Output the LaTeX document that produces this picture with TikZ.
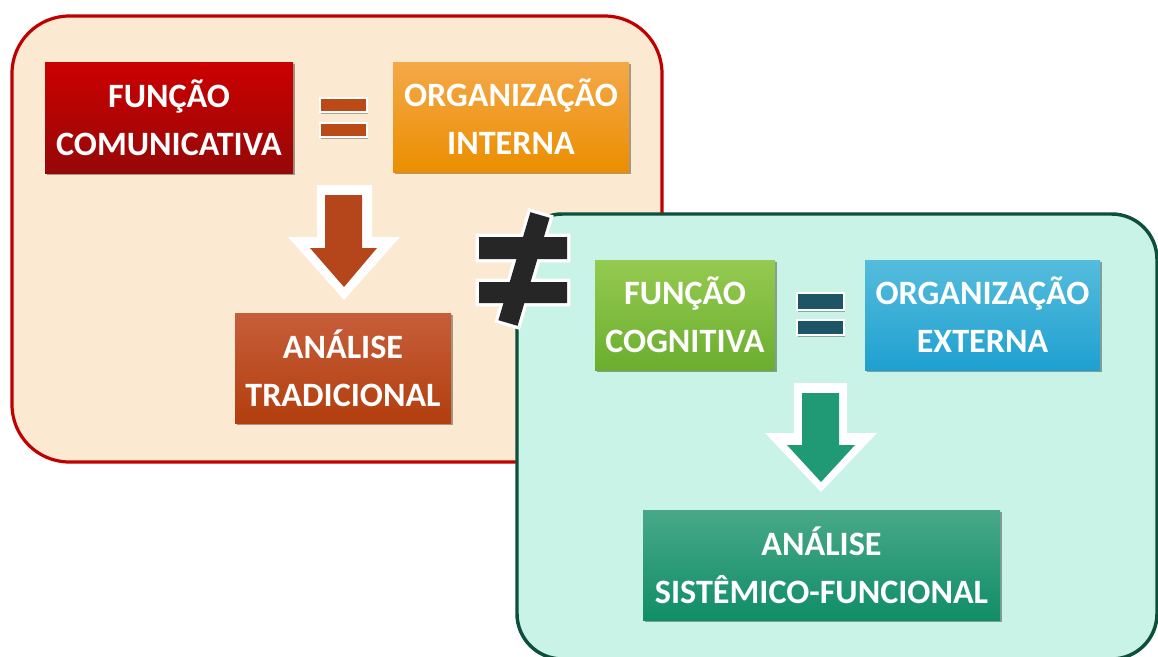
\documentclass[tikz,border=0pt]{standalone}
\usepackage{fontspec}
\setmainfont{Carlito}
\usetikzlibrary{shadows}
\definecolor{lbfill}{HTML}{FBE9D2}
\definecolor{lbdraw}{HTML}{C00000}
\definecolor{rbfill}{HTML}{C8F3E6}
\definecolor{rbdraw}{HTML}{0D4F3A}
\definecolor{fctop}{HTML}{CC0000}
\definecolor{fcbot}{HTML}{960808}
\definecolor{oitop}{HTML}{F4A848}
\definecolor{oibot}{HTML}{EB8E00}
\definecolor{attop}{HTML}{C65E3A}
\definecolor{atbot}{HTML}{B33E0E}
\definecolor{cgtop}{HTML}{95CA50}
\definecolor{cgbot}{HTML}{6AAE2E}
\definecolor{oetop}{HTML}{55BCDD}
\definecolor{oebot}{HTML}{1FA0D0}
\definecolor{astop}{HTML}{48A888}
\definecolor{asbot}{HTML}{108E66}
\definecolor{larrow}{HTML}{B5451B}
\definecolor{rarrow}{HTML}{1F9A74}
\definecolor{leq}{HTML}{BC4A17}
\definecolor{req}{HTML}{1D5567}
\definecolor{neq}{HTML}{262626}
\begin{document}
\begin{tikzpicture}[x=0.75pt,y=-0.75pt,
  box/.style={inner sep=0pt, align=center, text=white,
    font=\fontsize{25.6}{36}\selectfont\bfseries,
    drop shadow={shadow xshift=1.5pt, shadow yshift=-1.5pt, opacity=0.35, fill=black}},
  frame/.style={line width=2.4pt},
  whiteout/.style={fill=white},
  eqbar/.style={draw=white, line width=2.2pt,
    drop shadow={shadow xshift=0.8pt, shadow yshift=-1.5pt, opacity=0.3, fill=black}}
]
\useasboundingbox (0,0) rectangle (1158,657);

% left panel
\draw[frame, draw=lbdraw, fill=lbfill, rounded corners=43pt] (12,16) rectangle (662,462);

\node[box, top color=fctop, bottom color=fcbot, minimum width=186pt, minimum height=83.25pt] (fc) at (169,117.5) {FUNÇÃO\\COMUNICATIVA};
\node[box, top color=oitop, bottom color=oibot, minimum width=177pt, minimum height=82.5pt] (oi) at (511,117) {ORGANIZAÇÃO\\INTERNA};
\node[box, top color=attop, bottom color=atbot, minimum width=162pt, minimum height=82.5pt] (at) at (343,368) {ANÁLISE\\TRADICIONAL};

% left equal sign
\fill[eqbar, fill=leq] (320,98) rectangle (367,112);
\fill[eqbar, fill=leq] (320,123) rectangle (367,137);
\draw[white, line width=2.2pt] (320,98) rectangle (367,112) (320,123) rectangle (367,137);

% left arrow
\fill[whiteout] (317,185) -- (372,185) -- (372,237) -- (400,237) -- (344,300) -- (288,237) -- (317,237) -- cycle;
\fill[larrow] (325,195) -- (362,195) -- (362,248) -- (377,248) -- (344,287) -- (310,248) -- (325,248) -- cycle;

% right panel
\draw[frame, line width=2.6pt, draw=rbdraw, fill=rbfill, rounded corners=34pt] (517,214) rectangle (1157,659);

\node[box, top color=cgtop, bottom color=cgbot, minimum width=135pt, minimum height=82.5pt] (cg) at (685,315) {FUNÇÃO\\COGNITIVA};
\node[box, top color=oetop, bottom color=oebot, minimum width=176.25pt, minimum height=82.5pt] (oe) at (982.5,315) {ORGANIZAÇÃO\\EXTERNA};
\node[box, top color=astop, bottom color=asbot, minimum width=267.75pt, minimum height=82.5pt] (as) at (821.5,565) {ANÁLISE\\SISTÊMICO-FUNCIONAL};

% right equal sign
\fill[eqbar, fill=req] (797,293) rectangle (844,310);
\fill[eqbar, fill=req] (797,320) rectangle (844,335);
\draw[white, line width=2.2pt] (797,293) rectangle (844,310) (797,320) rectangle (844,335);

% right arrow
\fill[whiteout] (794,383) -- (847,383) -- (847,433) -- (877,433) -- (821,492) -- (765,433) -- (794,433) -- cycle;
\fill[rarrow] (802,393) -- (839,393) -- (839,445) -- (855,445) -- (821,482) -- (787,445) -- (802,445) -- cycle;

% not-equal sign
\begin{scope}[line join=miter]
\draw[white, line width=5pt] (479,237) rectangle (567,259) (479,282) rectangle (567,303)
  (530.4,212.2) -- (549.6,217.8) -- (517.6,325.8) -- (498.4,320.2) -- cycle;
\fill[neq] (479,237) rectangle (567,259) (479,282) rectangle (567,303);
\fill[neq] (530.4,212.2) -- (549.6,217.8) -- (517.6,325.8) -- (498.4,320.2) -- cycle;
\end{scope}
\end{tikzpicture}
\end{document}
